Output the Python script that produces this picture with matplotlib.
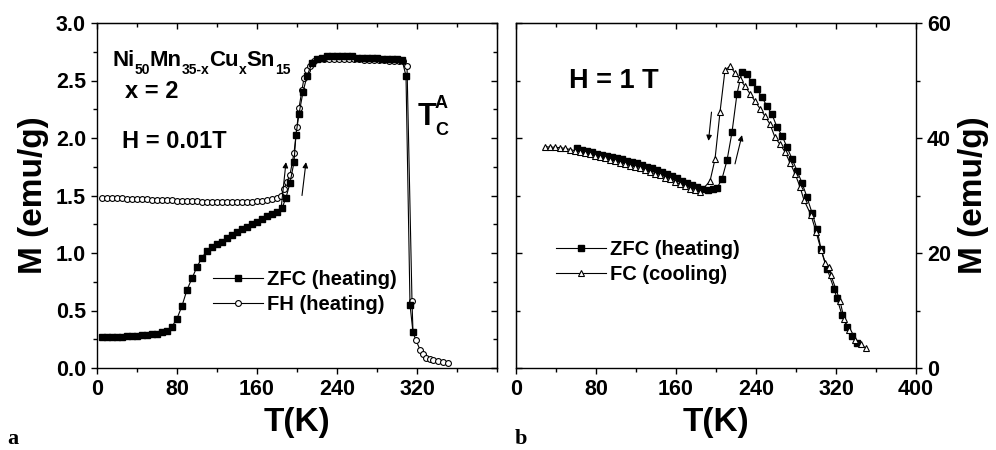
"""
plot.py — M(T) of Ni50Mn35-xCuxSn15 (x = 2): low field (a) and 1 T (b).
"""

import matplotlib

matplotlib.use("Agg")
import matplotlib.pyplot as plt
from matplotlib.ticker import MultipleLocator, FormatStrFormatter

plt.rcParams["font.family"] = ["Liberation Sans", "DejaVu Sans"]
plt.rcParams["font.weight"] = "bold"

# ── panel (a): H = 0.01 T
T_zfc_a = [5, 10, 15, 20, 25, 30, 35, 40, 45, 50, 55, 60, 65, 70, 75, 80, 85,
           90, 95, 100, 105, 110, 115, 120, 125, 130, 135, 140, 145, 150, 155,
           160, 165, 170, 175, 180, 185, 189, 193, 197, 199, 202, 206, 210,
           215, 220, 225, 230, 235, 240, 245, 250, 255, 260, 265, 270, 275,
           280, 285, 290, 295, 300, 305, 309, 313, 316]
M_zfc_a = [0.27, 0.27, 0.27, 0.27, 0.27, 0.28, 0.28, 0.28, 0.29, 0.29, 0.30,
           0.30, 0.31, 0.32, 0.36, 0.43, 0.54, 0.68, 0.78, 0.88, 0.96, 1.02,
           1.05, 1.08, 1.10, 1.13, 1.16, 1.18, 1.21, 1.23, 1.25, 1.27, 1.30,
           1.32, 1.34, 1.36, 1.39, 1.48, 1.61, 1.79, 2.03, 2.21, 2.40, 2.54,
           2.65, 2.69, 2.70, 2.71, 2.71, 2.71, 2.71, 2.71, 2.71, 2.70, 2.70,
           2.70, 2.70, 2.70, 2.69, 2.69, 2.69, 2.69, 2.68, 2.54, 0.55, 0.31]

T_fh_a = [5, 10, 15, 20, 25, 30, 35, 40, 45, 50, 55, 60, 65, 70, 75, 80, 85,
          90, 95, 100, 105, 110, 115, 120, 125, 130, 135, 140, 145, 150, 155,
          160, 165, 170, 175, 180, 184, 187, 190, 193, 197, 200, 202, 205,
          207, 210, 213, 217, 222, 227, 232, 237, 242, 247, 252, 257, 262,
          267, 272, 277, 282, 287, 292, 297, 302, 306, 310, 315, 316, 319,
          323, 326, 329, 333, 336, 341, 346, 351]
M_fh_a = [1.48, 1.48, 1.48, 1.48, 1.48, 1.47, 1.47, 1.47, 1.47, 1.47, 1.46,
          1.46, 1.46, 1.46, 1.46, 1.45, 1.45, 1.45, 1.45, 1.45, 1.44, 1.44,
          1.44, 1.44, 1.44, 1.44, 1.44, 1.44, 1.44, 1.44, 1.44, 1.45, 1.45,
          1.46, 1.47, 1.48, 1.50, 1.56, 1.62, 1.68, 1.87, 2.10, 2.26, 2.42,
          2.52, 2.59, 2.63, 2.67, 2.69, 2.69, 2.69, 2.69, 2.69, 2.69, 2.69,
          2.69, 2.69, 2.68, 2.68, 2.68, 2.68, 2.68, 2.67, 2.67, 2.67, 2.67,
          2.63, 0.58, 0.31, 0.24, 0.16, 0.12, 0.09, 0.08, 0.07, 0.06, 0.05,
          0.04]

# ── panel (b): H = 1 T
T_zfc_b = [61, 66, 71, 76, 81, 86, 91, 96, 101, 106, 111, 116, 121, 126, 131,
           136, 141, 146, 151, 156, 161, 166, 171, 176, 181, 186, 192, 197,
           201, 206, 211, 216, 221, 226, 231, 236, 241, 246, 251, 256, 261,
           266, 271, 276, 281, 286, 291, 296, 301, 305, 311, 318, 321, 326,
           331, 336, 341]
M_zfc_b = [38.2, 37.9, 37.7, 37.5, 37.3, 37.1, 36.9, 36.7, 36.5, 36.3, 36.0,
           35.8, 35.6, 35.3, 35.0, 34.7, 34.4, 34.1, 33.7, 33.4, 33.0, 32.6,
           32.2, 31.8, 31.4, 31.1, 31.0, 31.2, 31.3, 32.9, 36.1, 41.0, 47.7,
           51.5, 51.1, 49.7, 48.5, 47.1, 45.5, 44.1, 41.9, 40.4, 38.4, 36.4,
           34.3, 32.2, 29.7, 27.0, 24.1, 20.7, 17.3, 13.8, 12.1, 9.2, 7.1,
           5.5, 4.3]

T_fc_b = [29, 34, 39, 44, 49, 54, 59, 64, 69, 74, 79, 84, 89, 94, 99, 104,
          109, 114, 119, 124, 129, 134, 139, 144, 149, 154, 159, 164, 169,
          174, 179, 184, 194, 199, 204, 209, 214, 219, 224, 229, 234, 239,
          244, 249, 254, 259, 264, 269, 274, 279, 284, 288, 295, 300, 305,
          309, 313, 315, 324, 328, 333, 339, 345, 350]
M_fc_b = [38.5, 38.4, 38.4, 38.3, 38.2, 38.0, 37.8, 37.6, 37.4, 37.2, 36.9,
          36.7, 36.5, 36.2, 36.0, 35.7, 35.5, 35.2, 35.0, 34.7, 34.4, 34.1,
          33.8, 33.5, 33.1, 32.8, 32.4, 32.0, 31.6, 31.2, 30.9, 30.6, 32.5,
          36.3, 44.5, 51.8, 52.5, 51.3, 50.2, 49.0, 47.7, 46.4, 45.1, 43.8,
          42.4, 40.1, 38.9, 37.6, 35.7, 33.8, 31.5, 29.2, 26.6, 23.7, 20.6,
          18.3, 17.6, 16.1, 11.7, 8.6, 6.6, 4.9, 4.1, 3.4]

# composition label pieces: (text, font size, baseline shift in px)
FORMULA = [("Ni", 16, 0), ("50", 10, -8), ("Mn", 16, 0), ("35-x", 10, -8),
           ("Cu", 16, 0), ("x", 10, -8), ("Sn", 16, 0), ("15", 10, -8)]

TICK_FS = 15.5
LABEL_FS = 24
NOTE_FS = 17
LEG_FS = 14.5


def style_axes(ax, ymaj, ymin, main_side):
    """Origin-like frame: outward ticks on labelled sides, inward mirrors."""
    ax.set_xlim(0, 400)
    ax.xaxis.set_minor_locator(MultipleLocator(40))
    ax.yaxis.set_major_locator(MultipleLocator(ymaj))
    ax.yaxis.set_minor_locator(MultipleLocator(ymin))
    ax.tick_params(which="both", direction="out", width=1,
                   labelsize=TICK_FS)
    ax.tick_params(which="major", length=4.5)
    ax.tick_params(which="minor", length=2.8)
    for sp in ax.spines.values():
        sp.set_linewidth(1.0)

    top = ax.secondary_xaxis("top")
    top.xaxis.set_major_locator(MultipleLocator(80))
    top.xaxis.set_minor_locator(MultipleLocator(40))
    top.tick_params(which="both", direction="in", width=1,
                    labeltop=False, labelbottom=False)
    top.tick_params(which="major", length=4.5)
    top.tick_params(which="minor", length=2.8)

    other = "left" if main_side == "right" else "right"
    sec = ax.secondary_yaxis(other)
    sec.yaxis.set_major_locator(MultipleLocator(ymaj))
    sec.yaxis.set_minor_locator(MultipleLocator(ymin))
    sec.tick_params(which="both", direction="in", width=1,
                    labelleft=False, labelright=False)
    sec.tick_params(which="major", length=4.5)
    sec.tick_params(which="minor", length=2.8)


def arrow(ax, x0, y0, x1, y1):
    ax.annotate("", xy=(x1, y1), xytext=(x0, y0),
                arrowprops=dict(arrowstyle="-|>", lw=0.8, color="black",
                                mutation_scale=8, shrinkA=0, shrinkB=0))


def chained_text(ax, x, y, parts):
    """Write pieces one after another (for sub/superscripts of own size)."""
    r = ax.figure.canvas.get_renderer()
    dx = 0.0
    for s, size, dy in parts:
        t = ax.annotate(s, xy=(x, y), xycoords="data", xytext=(dx, dy),
                        textcoords="offset pixels", fontsize=size,
                        fontweight="bold", va="baseline")
        dx += t.get_window_extent(r).width


def main() -> int:
    fig = plt.figure(figsize=(9.96, 4.5), dpi=100)
    ax1 = fig.add_axes([97 / 996, 82 / 450, 400 / 996, 345 / 450])
    ax2 = fig.add_axes([516 / 996, 82 / 450, 400 / 996, 345 / 450])

    # ── (a)
    ax1.plot(T_zfc_a, M_zfc_a, "-", color="black", lw=0.8, marker="s",
             ms=3.8, mfc="black", mec="black", label="ZFC (heating)", zorder=3)
    ax1.plot(T_fh_a, M_fh_a, "-", color="black", lw=0.8, marker="o",
             ms=4.2, mfc="white", mec="black", mew=0.8,
             label="FH (heating)", zorder=2)
    ax1.set_ylim(0, 3.0)
    ax1.set_xticks([0, 80, 160, 240, 320])
    ax1.yaxis.set_major_formatter(FormatStrFormatter("%.1f"))
    style_axes(ax1, 0.5, 0.25, "left")
    ax1.set_xlabel("T(K)", fontsize=LABEL_FS, fontweight="bold", labelpad=5)
    ax1.set_ylabel("M (emu/g)", fontsize=LABEL_FS, fontweight="bold",
                   labelpad=5)

    chained_text(ax1, 15, 2.63, FORMULA)
    ax1.text(28, 2.35, "x = 2", fontsize=NOTE_FS, fontweight="bold")
    ax1.text(25, 1.91, "H = 0.01T", fontsize=NOTE_FS, fontweight="bold")
    ax1.text(321, 2.11, "T", fontsize=22, fontweight="bold")
    ax1.text(338, 2.26, "A", fontsize=13, fontweight="bold")
    ax1.text(338, 2.03, "C", fontsize=13, fontweight="bold")
    arrow(ax1, 184.5, 1.42, 189, 1.79)
    arrow(ax1, 205, 1.50, 209, 1.79)

    ax1.legend(loc="center left", bbox_to_anchor=(0.29, 0.219),
               frameon=False, fontsize=LEG_FS, numpoints=1,
               handlelength=2.5, handletextpad=0.2, labelspacing=0.3,
               borderpad=0, borderaxespad=0)

    # ── (b)
    ax2.plot(T_zfc_b, M_zfc_b, "-", color="black", lw=0.8, marker="s",
             ms=3.8, mfc="black", mec="black", label="ZFC (heating)", zorder=2)
    ax2.plot(T_fc_b, M_fc_b, "-", color="black", lw=0.8, marker="^",
             ms=5, mfc="white", mec="black", mew=0.8,
             label="FC (cooling)", zorder=3)
    ax2.set_ylim(0, 60)
    ax2.set_xticks([0, 80, 160, 240, 320, 400])
    ax2.yaxis.tick_right()
    ax2.yaxis.set_label_position("right")
    style_axes(ax2, 20, 10, "right")
    ax2.set_xlabel("T(K)", fontsize=LABEL_FS, fontweight="bold", labelpad=5)
    ax2.set_ylabel("M (emu/g)", fontsize=LABEL_FS, fontweight="bold",
                   labelpad=5)

    ax2.text(53, 48.7, "H = 1 T", fontsize=19.5, fontweight="bold")
    arrow(ax2, 195.5, 44.5, 192.5, 39.5)
    arrow(ax2, 219, 35.5, 226, 40.5)

    ax2.legend(loc="center left", bbox_to_anchor=(0.10, 0.306),
               frameon=False, fontsize=LEG_FS, numpoints=1,
               handlelength=2.5, handletextpad=0.2, labelspacing=0.3,
               borderpad=0, borderaxespad=0)

    fig.text(7 / 996, 6 / 450, "a", family="Liberation Serif",
             fontweight="bold", fontsize=16)
    fig.text(515 / 996, 6 / 450, "b", family="Liberation Serif",
             fontweight="bold", fontsize=16)

    fig.savefig("out.png", dpi=100)
    return 0


if __name__ == "__main__":
    raise SystemExit(main())
